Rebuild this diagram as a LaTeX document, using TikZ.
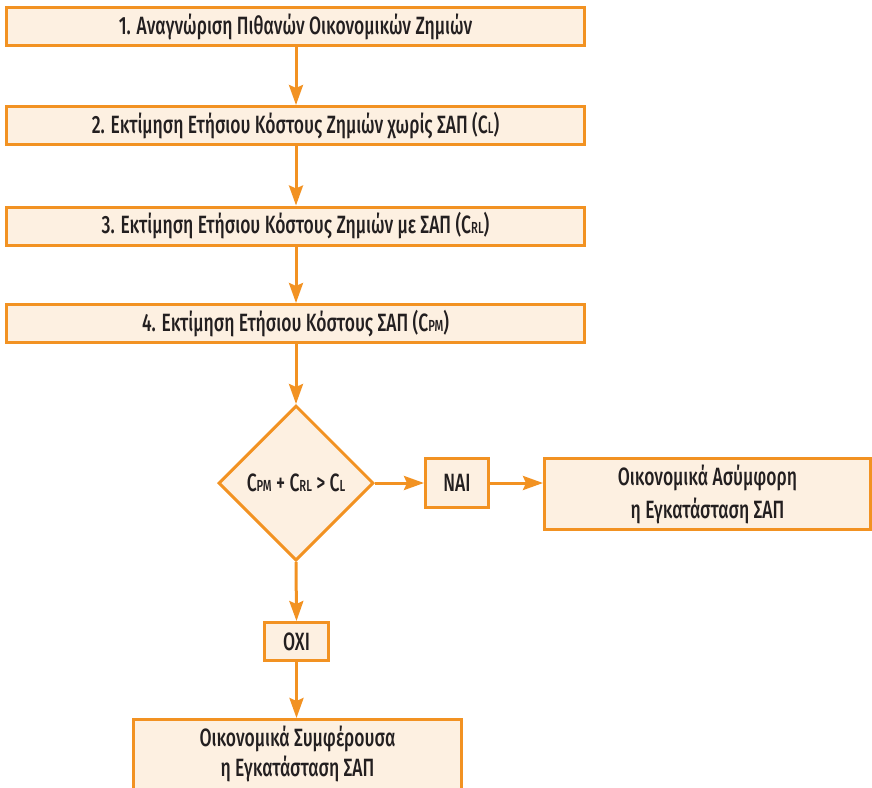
\documentclass[tikz,border=0pt]{standalone}
\usepackage{fontspec}
\setmainfont{Fira Sans}[FakeStretch=0.7, UprightFont=* Medium]
\usetikzlibrary{arrows.meta,shapes.geometric}
\definecolor{orng}{HTML}{F29222}
\definecolor{fillc}{HTML}{FDF0E1}
\definecolor{txt}{HTML}{231F20}
\newcommand{\sbs}[1]{{\fontsize{16}{16}\selectfont #1}}
\tikzset{
  box/.style={draw=orng, fill=fillc, line width=3pt, inner sep=0pt, text=txt,
    font=\fontsize{25}{33}\selectfont, align=center},
  arr/.style={draw=orng, line width=3pt, -{Stealth[length=20pt,width=14pt,inset=3pt]}},
}
\begin{document}
\begin{tikzpicture}[x=1pt,y=-1pt]
\useasboundingbox (0,0) rectangle (872,787);
\clip (0,0) rectangle (872,787);
\node[box, minimum width=578pt, minimum height=38pt] (b1) at (295.5,26.5) {1. Αναγνώριση Πιθανών Οικονομικών Ζημιών};
\node[box, minimum width=578pt, minimum height=38pt] (b2) at (295.5,125.5) {2. Εκτίμηση Ετήσιου Κόστους Ζημιών χωρίς ΣΑΠ (C\sbs{L})};
\node[box, minimum width=578pt, minimum height=38pt] (b3) at (295.5,226) {3. Εκτίμηση Ετήσιου Κόστους Ζημιών με ΣΑΠ (C\sbs{RL})};
\node[box, minimum width=578pt, minimum height=38pt] (b4) at (295.5,323.5) {4. Εκτίμηση Ετήσιου Κόστους ΣΑΠ (C\sbs{PM})};
\node[box, shape=diamond, minimum width=155pt, minimum height=155pt] (d) at (296,483) {C\sbs{PM} + C\sbs{RL} > C\sbs{L}};
\node[box, minimum width=63pt, minimum height=49pt] (nai) at (457,483) {NAI};
\node[box, minimum width=326pt, minimum height=71pt] (r) at (707.5,494) {Οικονομικά Ασύμφορη\\η Εγκατάσταση ΣΑΠ};
\node[box, minimum width=64pt, minimum height=38pt] (oxi) at (296.5,641.5) {ΟΧΙ};
\node[box, font=\fontsize{25}{30}\selectfont, minimum width=328pt, inner ysep=6pt, anchor=north] (f) at (297.5,718) {Οικονομικά Συμφέρουσα\\η Εγκατάσταση ΣΑΠ\\ };
\draw[arr] (b1.south -| 296,0) -- (b2.north -| 296,0);
\draw[arr] (b2.south -| 296,0) -- (b3.north -| 296,0);
\draw[arr] (b3.south -| 296,0) -- (b4.north -| 296,0);
\draw[arr] (b4.south -| 296,0) -- (d.north);
\draw[arr] (d.east) -- (nai.west);
\draw[arr] (nai.east) -- (nai.east -| r.west);
\draw[arr] (d.south) -- (oxi.north);
\draw[arr] (oxi.south) -- (f.north -| oxi.south);
\end{tikzpicture}
\end{document}
